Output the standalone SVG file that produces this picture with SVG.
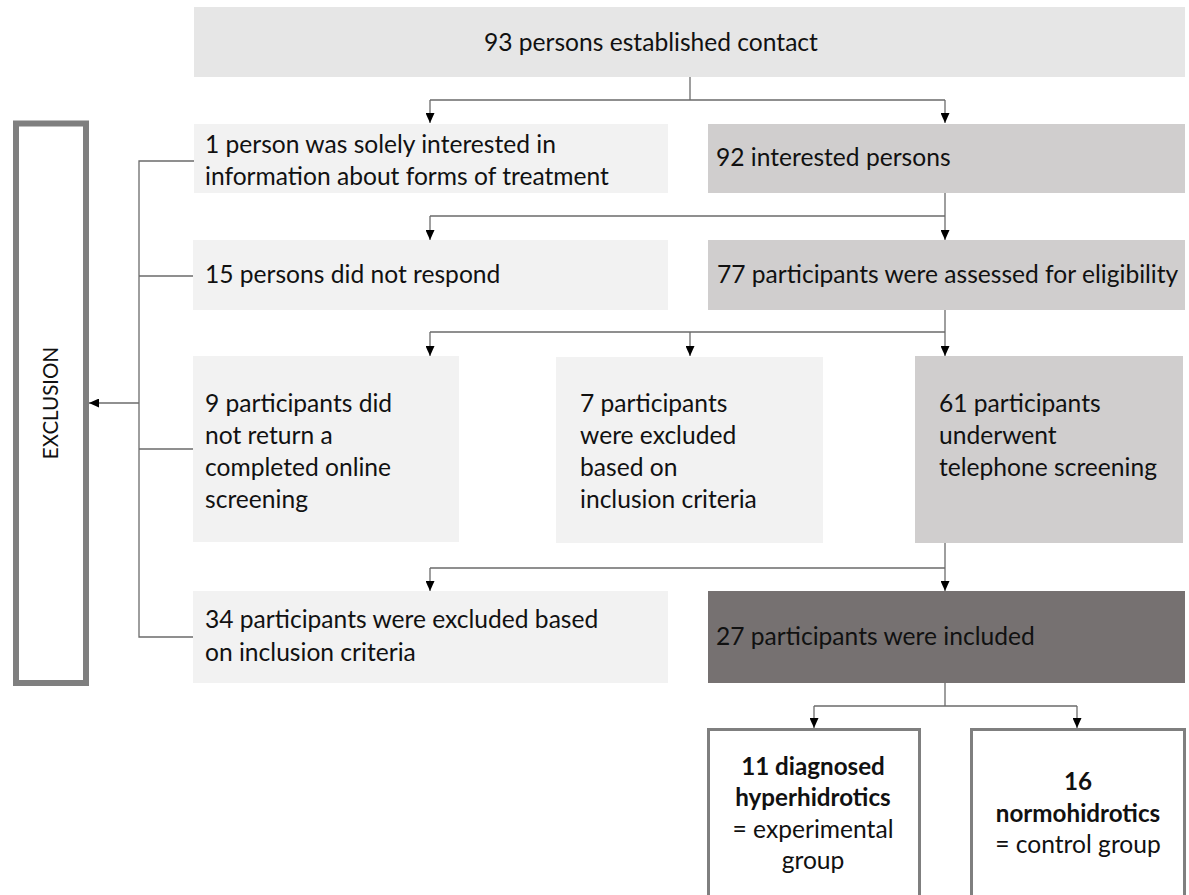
<svg xmlns="http://www.w3.org/2000/svg" width="1189" height="895" viewBox="0 0 1189 895">
<style>
.t{font-family:Lato,"Liberation Sans",sans-serif;font-size:24.6px;fill:#111}
.b{font-weight:bold;font-size:24.2px}
.c{text-anchor:middle}
.l1{fill:#e6e6e6}
.l2{fill:#f2f2f2}
.l3{fill:#d0cece}
.l4{fill:#767171}
.ob{fill:#fff;stroke:#7f7f7f;stroke-width:3}
.cn{fill:none;stroke:#6b6b6b;stroke-width:1.3}
</style>
<defs>
<marker id="ah" markerUnits="userSpaceOnUse" markerWidth="10" markerHeight="9" viewBox="0 0 10 9" refX="10" refY="4.5" orient="auto">
<path d="M0,0 L10,4.5 L0,9 Z" fill="#000"/>
</marker>
</defs>
<g id="connectors">
<path class="cn" d="M690,77 V100 M430,100 H945"/>
<path class="cn" d="M430,100 V123" marker-end="url(#ah)"/>
<path class="cn" d="M945,100 V123" marker-end="url(#ah)"/>
<path class="cn" d="M945,193 V216 M430,216 H945"/>
<path class="cn" d="M945,216 V240" marker-end="url(#ah)"/>
<path class="cn" d="M430,216 V240" marker-end="url(#ah)"/>
<path class="cn" d="M945,310 V332 M430,332 H945"/>
<path class="cn" d="M430,332 V356" marker-end="url(#ah)"/>
<path class="cn" d="M690,332 V356" marker-end="url(#ah)"/>
<path class="cn" d="M945,332 V356" marker-end="url(#ah)"/>
<path class="cn" d="M945,543 V568 M430,568 H945"/>
<path class="cn" d="M430,568 V591" marker-end="url(#ah)"/>
<path class="cn" d="M945,568 V591" marker-end="url(#ah)"/>
<path class="cn" d="M945,683 V706 M814,706 H1077"/>
<path class="cn" d="M814,706 V728" marker-end="url(#ah)"/>
<path class="cn" d="M1077,706 V728" marker-end="url(#ah)"/>
<path class="cn" d="M194,161 H139 V637 H194 M139,276 H194 M139,449 H193"/>
<path class="cn" d="M139,403 H89" marker-end="url(#ah)"/>
</g>
<g id="n-contact">
<rect class="l1" x="194" y="7" width="991" height="70"/>
<text class="t" x="484" y="51">93 persons established contact</text>
</g>
<g id="n-solely">
<rect class="l2" x="194" y="124" width="474" height="69"/>
<text class="t" x="205" y="153">1 person was solely interested in</text>
<text class="t" x="205" y="185">information about forms of treatment</text>
</g>
<g id="n-interested">
<rect class="l3" x="708" y="124" width="477" height="69"/>
<text class="t" x="716" y="166">92 interested persons</text>
</g>
<g id="n-norespond">
<rect class="l2" x="193" y="240" width="475" height="70"/>
<text class="t" x="205" y="283">15 persons did not respond</text>
</g>
<g id="n-assessed">
<rect class="l3" x="708" y="240" width="477" height="70"/>
<text class="t" x="717" y="283">77 participants were assessed for eligibility</text>
</g>
<g id="n-online">
<rect class="l2" x="193" y="356" width="266" height="186"/>
<text class="t" x="205" y="412">9 participants did</text>
<text class="t" x="205" y="444">not return a</text>
<text class="t" x="205" y="476">completed online</text>
<text class="t" x="205" y="508">screening</text>
</g>
<g id="n-excluded7">
<rect class="l2" x="556" y="357" width="267" height="186"/>
<text class="t" x="580" y="412">7 participants</text>
<text class="t" x="580" y="444">were excluded</text>
<text class="t" x="580" y="476">based on</text>
<text class="t" x="580" y="508">inclusion criteria</text>
</g>
<g id="n-telephone">
<rect class="l3" x="915" y="356" width="268" height="187"/>
<text class="t" x="939" y="412">61 participants</text>
<text class="t" x="939" y="444">underwent</text>
<text class="t" x="939" y="476">telephone screening</text>
</g>
<g id="n-excluded34">
<rect class="l2" x="193" y="591" width="475" height="92"/>
<text class="t" x="205" y="628">34 participants were excluded based</text>
<text class="t" x="205" y="661">on inclusion criteria</text>
</g>
<g id="n-included">
<rect class="l4" x="708" y="591" width="477" height="92"/>
<text class="t" x="716" y="645">27 participants were included</text>
</g>
<g id="n-hyper">
<rect class="ob" x="708.5" y="729.5" width="211" height="180"/>
<text class="t c b" x="813" y="775">11 diagnosed</text>
<text class="t c b" x="813" y="806">hyperhidrotics</text>
<text class="t c" x="813" y="838">= experimental</text>
<text class="t c" x="813" y="869">group</text>
</g>
<g id="n-normo">
<rect class="ob" x="971.5" y="729.5" width="213" height="180"/>
<text class="t c b" x="1078" y="790">16</text>
<text class="t c b" x="1078" y="822">normohidrotics</text>
<text class="t c" x="1078" y="853">= control group</text>
</g>
<g id="n-exclusion">
<rect x="16" y="123.5" width="70" height="559.5" fill="#fff" stroke="#7f7f7f" stroke-width="6"/>
<text class="t" style="font-size:20.5px" text-anchor="middle" transform="translate(58,403) rotate(-90)">EXCLUSION</text>
</g>
</svg>
